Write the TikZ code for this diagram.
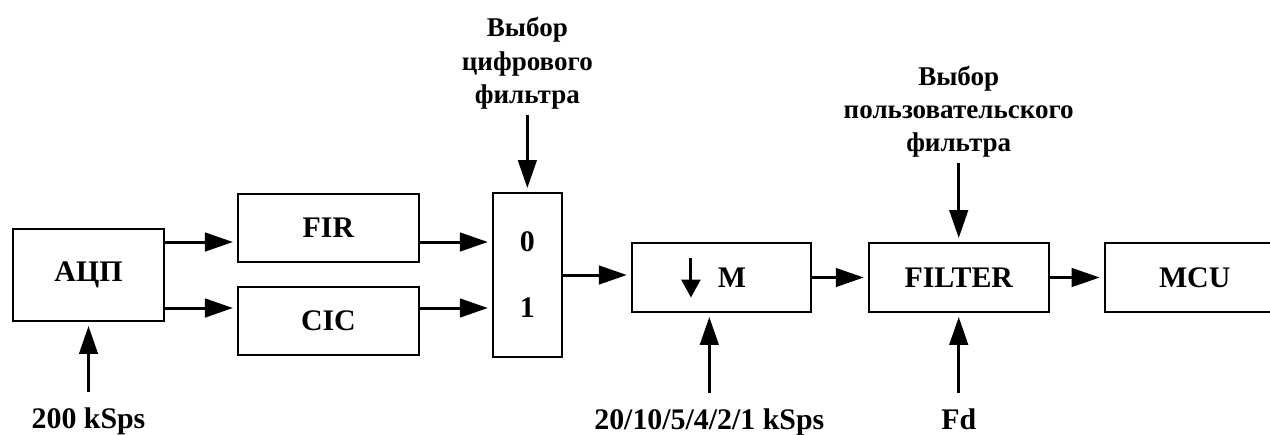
\documentclass[tikz,border=0pt]{standalone}
\usepackage{fontspec}
\setmainfont{Liberation Serif}
\usepackage{tikz}
\usetikzlibrary{positioning, arrows.meta}

\begin{document}
\begin{tikzpicture}[
    node distance=1.44cm and 1.44cm,
    box/.style={draw, line width=1.1pt, minimum width=3.6cm, minimum height=1.38cm,
                align=center, font=\fontsize{17}{19}\selectfont\bfseries},
    lbl/.style={align=center, inner sep=0.1cm, font=\fontsize{17}{19}\selectfont\bfseries},
    toplbl/.style={lbl, font=\fontsize{15.4}{19}\selectfont\bfseries},
    arrow/.style={-{Triangle[length=0.56cm, width=0.37cm]}, line width=1.7pt, shorten >=0.08cm}
]
    \useasboundingbox (0,0) rectangle (25.4,-8.68);
    \node[box, minimum width=3.02cm, minimum height=1.84cm] (adc) at (1.77,-5.5) {АЦП};
    \node[box, minimum width=3.62cm, minimum height=1.36cm, right=of adc, yshift=0.94cm] (fir) {FIR};
    \node[box, minimum width=3.62cm, minimum height=1.36cm, below=0.46cm of fir] (cic) {CIC};
    \node[box, minimum width=1.38cm, minimum height=3.28cm, right=of fir, yshift=-0.94cm] (mux) {};
    \node[lbl] (sel0) at ([yshift=0.66cm]mux.center) {0};
    \node[lbl] (sel1) at ([yshift=-0.66cm]mux.center) {1};
    \node[box, minimum width=3.58cm, right=1.36cm of mux, yshift=-0.05cm] (dec)
        {\tikz[baseline=0pt]\draw[-{Triangle[length=0.36cm, width=0.38cm]}, line width=1.7pt] (0,0.6) -- (0,-0.2);\hspace{0.35cm}M\hspace{0.3cm}};
    \node[box, right=1.12cm of dec] (filter) {FILTER};
    \node[box, right=1.08cm of filter] (mcu) {MCU};

    \node[toplbl, above=1.55cm of mux] (muxsel) {Выбор\\цифрового\\фильтра};
    \node[toplbl, above=1.58cm of filter] (filtsel) {Выбор\\пользовательского\\фильтра};
    \node[lbl, below=1.6cm of adc] (adcrate) {200 kSps};
    \node[lbl, below=1.8cm of dec, xshift=-0.24cm] (decrate) {20/10/5/4/2/1 kSps};
    \node[lbl, below=1.8cm of filter] (fd) {Fd};

    \draw[arrow] (adc.east |- sel0) -- (fir.west |- sel0);
    \draw[arrow] (adc.east |- sel1) -- (cic.west |- sel1);
    \draw[arrow] (fir.east |- sel0) -- (mux.west |- sel0);
    \draw[arrow] (cic.east |- sel1) -- (mux.west |- sel1);
    \draw[arrow] (mux.east) -- (mux.east -| dec.west);
    \draw[arrow] (dec.east) -- (dec.east -| filter.west);
    \draw[arrow] (filter) -- (mcu);
    \draw[arrow] (muxsel) -- (mux);
    \draw[arrow] (filtsel) -- (filter);
    \draw[arrow, shorten <=0.2cm] (adcrate) -- (adc);
    \draw[arrow, shorten <=0.2cm] (decrate.north) -- (decrate.north |- dec.south);
    \draw[arrow, shorten <=0.2cm] (fd) -- (filter);
\end{tikzpicture}
\end{document}
